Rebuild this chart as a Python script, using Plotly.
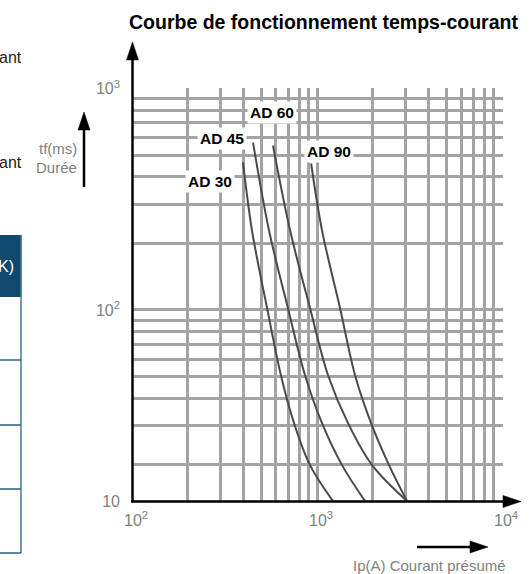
import math
import plotly.graph_objects as go

# ---------------- data ----------------
AD30_I = [398, 445, 537, 647, 751, 916, 1219]
AD30_T = [464, 229, 102, 48.2, 30.8, 19.9, 13.7]

AD45_I = [451, 550, 696, 861, 1064, 1365, 1816]
AD45_T = [570, 229, 102, 50.7, 30.8, 19.9, 13.7]

AD60_I = [578, 715, 916, 1147, 1470, 1984, 3062]
AD60_T = [553, 229, 102, 50.7, 30.8, 19.9, 13.7]

AD90_I = [929, 1064, 1331, 1605, 1959, 2449, 3062]
AD90_T = [459, 229, 102, 50.7, 30.8, 19.9, 13.7]

SERIES_NAMES = ["AD 30", "AD 45", "AD 60", "AD 90"]

X_GRID = [100, 200, 300, 400, 500, 600, 700, 800, 900,
          1000, 2000, 3000, 4000, 5000, 6000, 7000, 8000, 9000, 10000]
X_LABELS = {100: "10<sup>2</sup>", 1000: "10<sup>3</sup>", 10000: "10<sup>4</sup>"}

Y_MIN = 13.7
Y_GRID = [Y_MIN, 20, 30, 40, 50, 60, 70, 80, 90,
          100, 200, 300, 400, 500, 600, 700, 800, 900, 1000]
Y_LABELS = {Y_MIN: "10", 100: "10<sup>2</sup>", 1000: "10<sup>3</sup>"}

TITLE = "Courbe de fonctionnement temps-courant"
Y_TITLE = ["tf(ms)", "Durée"]
X_TITLE = "Ip(A) Courant présumé"

# ---------------- layout helpers ----------------
W, H = 530, 574
ML, MR, MT, MB = 132, 27, 88, 73
PW, PH = W - ML - MR, H - MT - MB


def px(x):
    return (x - ML) / PW


def py(y):
    return (H - MB - y) / PH


fig = go.Figure()
CURVE_COLOR = "#4a4a4a"
for name, xs, ys in [("AD 30", AD30_I, AD30_T), ("AD 45", AD45_I, AD45_T),
                     ("AD 60", AD60_I, AD60_T), ("AD 90", AD90_I, AD90_T)]:
    fig.add_trace(go.Scatter(x=xs, y=ys, mode="lines", name=name,
                             line=dict(color=CURVE_COLOR, width=2,
                                       shape="spline", smoothing=1.0),
                             showlegend=False, hoverinfo="skip"))

GRID_COLOR = "#a3a3a3"
TICK_FONT = dict(family="Liberation Sans, Arial, sans-serif", size=16, color="#808080")

fig.update_xaxes(type="log", range=[2, math.log10(10000) + 0.005],
                 tickvals=X_GRID,
                 ticktext=[X_LABELS.get(v, "") for v in X_GRID],
                 showgrid=True, gridcolor=GRID_COLOR, gridwidth=2.5,
                 showline=False, zeroline=False, ticks="",
                 tickfont=TICK_FONT, ticklabelstandoff=8, ticklabelshift=4)
fig.update_yaxes(type="log", range=[math.log10(Y_MIN), 3.003],
                 tickvals=Y_GRID,
                 ticktext=[Y_LABELS.get(v, "") for v in Y_GRID],
                 showgrid=True, gridcolor=GRID_COLOR, gridwidth=2.5,
                 showline=False, zeroline=False, ticks="",
                 tickfont=TICK_FONT, ticklabelstandoff=11)

shapes = []
BLACK = "#000000"


def line(x0, y0, x1, y1, color=BLACK, width=2.5):
    shapes.append(dict(type="line", xref="paper", yref="paper",
                       x0=px(x0), y0=py(y0), x1=px(x1), y1=py(y1),
                       line=dict(color=color, width=width), layer="above"))


def tri(p1, p2, p3, color=BLACK):
    path = "M {} {} L {} {} L {} {} Z".format(px(p1[0]), py(p1[1]), px(p2[0]), py(p2[1]),
                                              px(p3[0]), py(p3[1]))
    shapes.append(dict(type="path", xref="paper", yref="paper", path=path,
                       fillcolor=color, line=dict(color=color, width=0.5), layer="above"))


# axes with arrows
line(132.5, 502, 132.5, 58)
tri((132.5, 42), (126.5, 60), (138.5, 60))
line(131, 501.5, 505, 501.5)
tri((521, 501.5), (503, 495.5), (503, 507.5))
# tf arrow
line(84, 187, 84, 126)
tri((84, 112), (78, 130), (90, 130))
# Ip arrow
line(417, 547, 474, 547)
tri((488, 547), (470, 541), (470, 553))

# table fragment at the left edge
TABLE_BLUE = "#0e4a70"
shapes.append(dict(type="rect", xref="paper", yref="paper",
                   x0=px(-5), x1=px(21.5), y0=py(297), y1=py(235),
                   fillcolor=TABLE_BLUE, line=dict(width=0), layer="above"))
line(21, 235, 21, 553, color="#4a7897", width=1.5)
for yy in [360, 425, 489, 553]:
    line(-5, yy, 21, yy, color="#2e5f82", width=1.5)

fig.update_layout(shapes=shapes)

ann = []
LABEL_FONT = dict(family="Liberation Sans, Arial, sans-serif", size=15.5, color="#000000")
for name, (cx, cy) in zip(SERIES_NAMES, [(210, 181), (221.5, 139), (271.5, 112), (328.5, 151)]):
    ann.append(dict(xref="paper", yref="paper", x=px(cx), y=py(cy), text="<b>%s</b>" % name,
                    showarrow=False, font=LABEL_FONT, bgcolor="#ffffff", borderpad=2,
                    xanchor="center", yanchor="middle"))

ann.append(dict(xref="paper", yref="paper", x=px(323), y=py(22), text="<b>%s</b>" % TITLE,
                showarrow=False, xanchor="center", yanchor="middle",
                font=dict(family="Liberation Sans, Arial, sans-serif", size=19.5, color="#000000")))
GRAY_FONT = dict(family="Liberation Sans, Arial, sans-serif", size=15, color="#808080")
ann.append(dict(xref="paper", yref="paper", x=px(79), y=py(148), text=Y_TITLE[0],
                showarrow=False, xanchor="right", yanchor="middle", font=GRAY_FONT))
ann.append(dict(xref="paper", yref="paper", x=px(79), y=py(167), text=Y_TITLE[1],
                showarrow=False, xanchor="right", yanchor="middle", font=GRAY_FONT))
ann.append(dict(xref="paper", yref="paper", x=px(351), y=py(565), text=X_TITLE,
                showarrow=False, xanchor="left", yanchor="middle", font=GRAY_FONT))
BODY_FONT = dict(family="Liberation Sans, Arial, sans-serif", size=16, color="#222222")
ann.append(dict(xref="paper", yref="paper", x=px(-3), y=py(57), text="ant",
                showarrow=False, xanchor="left", yanchor="middle", font=BODY_FONT))
ann.append(dict(xref="paper", yref="paper", x=px(-3), y=py(162), text="ant",
                showarrow=False, xanchor="left", yanchor="middle", font=BODY_FONT))
ann.append(dict(xref="paper", yref="paper", x=px(-4), y=py(266), text="K)",
                showarrow=False, xanchor="left", yanchor="middle",
                font=dict(family="Liberation Sans, Arial, sans-serif", size=16, color="#ffffff")))

fig.update_layout(annotations=ann, width=W, height=H,
                  margin=dict(l=ML, r=MR, t=MT, b=MB, pad=0),
                  plot_bgcolor="#ffffff", paper_bgcolor="#ffffff")

fig.write_html("out.html", config={"displayModeBar": False},
               post_script="document.body.style.margin='0px';document.body.style.overflow='hidden';")
